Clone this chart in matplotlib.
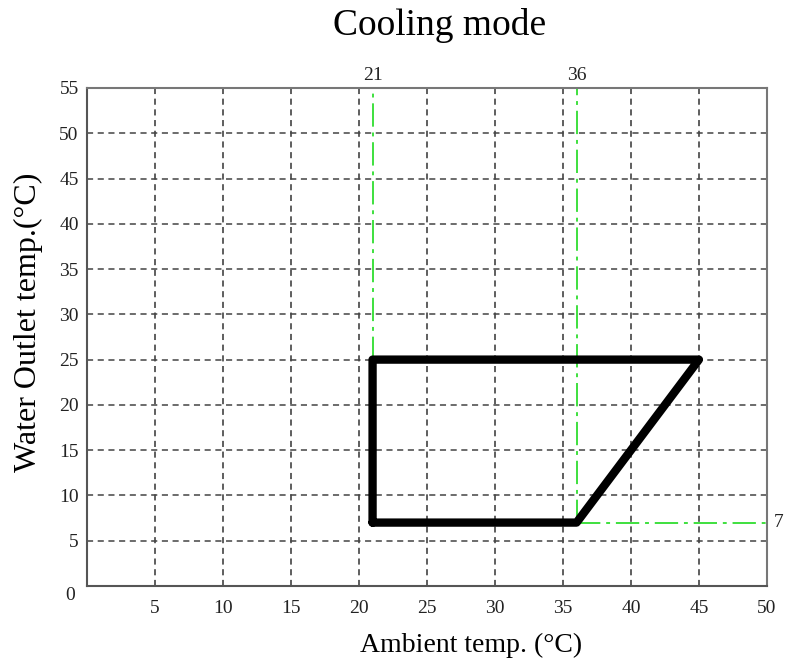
import numpy as np
import matplotlib
matplotlib.use('Agg')
from matplotlib import pyplot as plt

# operating envelope (ambient temp, water outlet temp)
env_x = [21, 21, 45, 36, 21]
env_y = [7, 25, 25, 7, 7]
xticks = [5, 10, 15, 20, 25, 30, 35, 40, 45, 50]
yticks = [5, 10, 15, 20, 25, 30, 35, 40, 45, 50, 55]
mark_x = [21, 36]
mark_y = 7

plt.rcParams['font.family'] = ['Liberation Serif', 'DejaVu Serif']

fig = plt.figure(figsize=(7.85, 6.68), dpi=100)
ax = fig.add_axes([0.1108, 0.1228, 0.8662, 0.7455])
ax.set_xlim(0, 50)
ax.set_ylim(0, 55)

# grid
for x in xticks[:-1]:
    ax.axvline(x, color='#333333', lw=1.1, ls=(0, (4, 3)), zorder=1)
for y in yticks[:-1]:
    ax.axhline(y, color='#444444', lw=1.1, ls=(0, (4, 3)), zorder=1)

# green guide lines
g = '#3ee03e'
ax.plot([mark_x[0], mark_x[0]], [25, 55], color=g, lw=1.4, ls=(0, (12, 3, 2, 3)), zorder=2)
ax.plot([mark_x[1], mark_x[1]], [mark_y, 55], color=g, lw=1.4, ls=(0, (12, 3, 2, 3)), zorder=2)
ax.plot([mark_x[1], 50], [mark_y, mark_y], color=g, lw=1.4, ls=(0, (12, 3, 2, 3)), zorder=2)

ax.plot(env_x, env_y, color='black', lw=6, solid_joinstyle='round', solid_capstyle='round', zorder=3)

for v in mark_x:
    ax.text(v, 55.4, str(v), ha='center', va='bottom', fontsize=14, color='#222222')
ax.text(50.5, mark_y, str(mark_y), ha='left', va='center', fontsize=14, color='#222222')
ax.text(-0.9, -1.0, '0', ha='right', va='center', fontsize=14, color='#222222')

ax.set_xticks(xticks)
ax.set_yticks(yticks)
ax.tick_params(length=0, labelsize=14, labelcolor='#222222')
ax.tick_params(axis='x', pad=10)
ax.tick_params(axis='y', pad=6)
for s in ax.spines.values():
    s.set_color('#555555')
    s.set_linewidth(1.5)
ax.spines['top'].set_color('#777777')
ax.spines['right'].set_color('#777777')

fig.text(0.56, 0.962, 'Cooling mode', ha='center', va='center', fontsize=27)
fig.text(0.60, 0.034, 'Ambient temp. (°C)', ha='center', va='center', fontsize=20)
fig.text(0.036, 0.518, 'Water Outlet temp.(°C)', ha='center', va='center',
         rotation=90, fontsize=23)

fig.savefig('out.png', dpi=100)
